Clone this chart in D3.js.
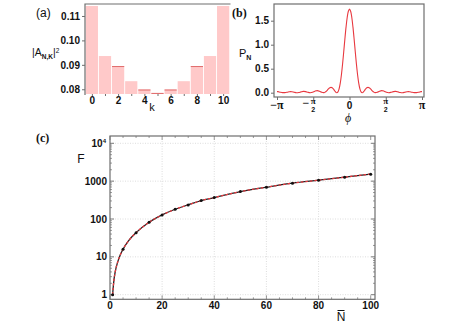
<!DOCTYPE html>
<html><head><meta charset="utf-8">
<script src="https://cdn.jsdelivr.net/npm/d3@7"></script>
<style>body{margin:0;background:#fff}svg{display:block}text{font-family:"Liberation Sans",Arial,sans-serif}</style>
</head><body>
<svg id="c" width="463" height="328"></svg>
<script>
// ---------- Data: panel (a) ----------
const kValues = [0,1,2,3,4,5,6,7,8,9,10];
const ampSq = [0.1141,0.0936,0.0895,0.0833,0.0799,0.0785,0.0799,0.0833,0.0895,0.0936,0.1141];
const aTicksX = [0,2,4,6,8,10];
const aTicksY = [0.08,0.09,0.10,0.11];
const aEdged = [2,4,5,6,8];
// ---------- Data: panel (b) ----------
const phiVals = [-3.1416,-3.1,-3.0,-2.9,-2.8,-2.7,-2.6,-2.5,-2.4,-2.3,-2.2,-2.1,-2.0,-1.9,-1.8,-1.7,-1.6,-1.5,-1.4,-1.3,-1.2,-1.1,-1.05,-1.0,-0.95,-0.9,-0.85,-0.8,-0.75,-0.7,-0.65,-0.6,-0.55,-0.5,-0.45,-0.4,-0.35,-0.3,-0.25,-0.2,-0.15,-0.1,-0.05,0,
  0.05,0.1,0.15,0.2,0.25,0.3,0.35,0.4,0.45,0.5,0.55,0.6,0.65,0.7,0.75,0.8,0.85,0.9,0.95,1.0,1.05,1.1,1.2,1.3,1.4,1.5,1.6,1.7,1.8,1.9,2.0,2.1,2.2,2.3,2.4,2.5,2.6,2.7,2.8,2.9,3.0,3.1,3.1416];
const pNVals = [0.022,0.022,0.011,0.002,0.002,0.010,0.021,0.021,0.010,0.000,0.004,0.017,0.027,0.023,0.008,0.000,0.010,0.032,0.044,0.032,0.008,0.002,0.013,0.033,0.059,0.085,0.105,0.111,0.102,0.078,0.045,0.014,0.000,0.018,0.082,0.200,0.375,0.598,0.854,1.119,1.365,1.566,1.697,1.742,
  1.697,1.566,1.365,1.119,0.854,0.598,0.375,0.200,0.082,0.018,0.000,0.014,0.045,0.078,0.102,0.111,0.105,0.085,0.059,0.033,0.013,0.002,0.008,0.032,0.044,0.032,0.010,0.000,0.008,0.023,0.027,0.017,0.004,0.000,0.010,0.021,0.021,0.010,0.002,0.002,0.011,0.022,0.022];
const bTicksY = [0.0,0.5,1.0,1.5];
const bTickLabelsY = ["0.0","0.5","1.0","1.5"];
// ---------- Data: panel (c) ----------
const nBarPts = [1,5,10,15,20,25,30,35,40,50,60,70,80,90,100];
const fPts = [1,15.9,43.6,82,128,181,236,307,368,531,693,885,1062,1276,1531];
const nBarCurve = [1,1.5,2,3,4,5,7,10,15,20,25,30,35,40,50,60,70,80,90,100];
const fCurve = [1,2.4,4,7.5,11.5,15.9,26,43.6,82,128,181,236,307,368,531,693,885,1062,1276,1531];
const cTicksX = [0,20,40,60,80,100];
const cTicksY = [1,10,100,1000,10000];

const svg = d3.select("#c");
const frameCol = "#6e6e6e";
const tickFont = "bold 10px 'Liberation Sans', Arial, sans-serif";

// ================= Panel (a) =================
{
  const L=85, R=229.5, T=4, B=94;
  const x = d3.scaleBand().domain(kValues).range([L+0.5,R]).paddingInner(0.07).paddingOuter(0.02);
  const y = d3.scaleLinear().domain([0.07806,0.1149]).range([B,T]);
  const g = svg.append("g");
  g.selectAll("rect.bar").data(kValues).join("rect")
    .attr("x",k=>x(k)).attr("width",x.bandwidth())
    .attr("y",(k,i)=>y(ampSq[i])).attr("height",(k,i)=>B-y(ampSq[i]))
    .attr("fill","#ffc9c9");
  g.selectAll("line.edge").data(aEdged).join("line")
    .attr("x1",k=>x(k)).attr("x2",k=>x(k)+x.bandwidth())
    .attr("y1",k=>y(ampSq[k])+0.5).attr("y2",k=>y(ampSq[k])+0.5)
    .attr("stroke","#e06a6a").attr("stroke-width",1);
  g.append("path").attr("d",`M${L},${B+1}V${T}H${R+1}`).attr("fill","none").attr("stroke",frameCol).attr("stroke-width",1.2);
  const ya = d3.axisLeft(y).tickValues(aTicksY).tickFormat(d3.format(".2f")).tickSize(3).tickPadding(2);
  const gy = g.append("g").attr("transform",`translate(${L},0)`).call(ya);
  gy.select(".domain").remove();
  gy.selectAll("line").attr("stroke",frameCol);
  gy.selectAll("text").style("font",tickFont).attr("fill","#111");
  const xa = d3.axisBottom(d3.scaleLinear().domain([0,10]).range([x(0)+x.bandwidth()/2, x(10)+x.bandwidth()/2]))
    .tickValues(kValues).tickFormat(d=>aTicksX.includes(d)?d:"").tickSize(2).tickPadding(1);
  const gx = g.append("g").attr("transform",`translate(0,${B})`).call(xa);
  gx.select(".domain").remove();
  gx.selectAll("line").attr("stroke",frameCol);
  gx.selectAll("text").style("font",tickFont).attr("fill","#111");
  const yl = g.append("text").attr("x",32).attr("y",56).style("font","10.5px 'Liberation Sans', Arial").attr("fill","#111");
  yl.append("tspan").text("|A");
  yl.append("tspan").attr("dy",2.5).style("font-size","6.5px").style("font-weight","bold").text("N,K");
  yl.append("tspan").attr("dy",-2.5).text("|");
  yl.append("tspan").attr("dy",-3).style("font-size","6.5px").text("2");
  g.append("text").attr("x",152).attr("y",111).attr("text-anchor","middle").style("font","11px 'Liberation Sans', Arial").attr("fill","#111").text("k");
  g.append("text").attr("x",36).attr("y",17).style("font","12px 'Liberation Sans', Arial").attr("fill","#111").text("(a)");
}

// ================= Panel (b) =================
{
  const L=274, R=424, T=4, B=97;
  const x = d3.scaleLinear().domain([-Math.PI,Math.PI]).range([277,422]);
  const y = d3.scaleLinear().domain([0,1.5]).range([92.7,20.7]);
  const g = svg.append("g");
  g.append("rect").attr("x",L).attr("y",T).attr("width",R-L).attr("height",B-T).attr("fill","none").attr("stroke",frameCol).attr("stroke-width",1.2);
  const line = d3.line().x((d,i)=>x(phiVals[i])).y(d=>y(d)).curve(d3.curveCatmullRom.alpha(0.5));
  g.append("path").attr("d",line(pNVals)).attr("fill","none").attr("stroke","#e8383f").attr("stroke-width",1.1);
  const ya = d3.axisLeft(y).tickValues(bTicksY).tickFormat((d,i)=>bTickLabelsY[i]).tickSize(3).tickPadding(2);
  const gy = g.append("g").attr("transform",`translate(${L},0)`).call(ya);
  gy.select(".domain").remove();
  gy.selectAll("line").attr("stroke",frameCol);
  gy.selectAll("text").style("font",tickFont).attr("fill","#111");
  const xt = [-Math.PI,-Math.PI/2,0,Math.PI/2,Math.PI];
  const xa = d3.axisBottom(x).tickValues(xt).tickFormat("").tickSize(3);
  const gx = g.append("g").attr("transform",`translate(0,${B})`).call(xa);
  gx.select(".domain").remove();
  gx.selectAll("line").attr("stroke",frameCol);
  const lf = "bold 12px 'Liberation Serif', 'Times New Roman', serif";
  g.append("text").attr("x",x(-Math.PI)).attr("y",109).attr("text-anchor","middle").style("font",lf).attr("fill","#111").text("−π");
  g.append("text").attr("x",x(Math.PI)).attr("y",109).attr("text-anchor","middle").style("font",lf).attr("fill","#111").text("π");
  g.append("text").attr("x",x(0)).attr("y",109).attr("text-anchor","middle").style("font",tickFont).attr("fill","#111").text("0");
  [-1,1].forEach(s=>{
    const cx = x(s*Math.PI/2);
    if(s<0) g.append("text").attr("x",cx-4).attr("y",107).attr("text-anchor","end").style("font",lf).attr("fill","#111").text("−");
    g.append("text").attr("x",cx).attr("y",104).attr("text-anchor","middle").style("font","bold 9px 'Liberation Serif', serif").attr("fill","#111").text("π");
    g.append("text").attr("x",cx).attr("y",112).attr("text-anchor","middle").style("font","bold 7px 'Liberation Sans', Arial").attr("fill","#111").text("2");
  });
  const pl = g.append("text").attr("x",239).attr("y",57).style("font","11px 'Liberation Sans', Arial").attr("fill","#111");
  pl.append("tspan").text("P");
  pl.append("tspan").attr("dy",2.5).style("font-size","7px").style("font-weight","bold").text("N");
  g.append("text").attr("x",348).attr("y",122).attr("text-anchor","middle").style("font","italic 12px 'Liberation Serif', serif").attr("fill","#111").text("ϕ");
  g.append("text").attr("x",232).attr("y",17).style("font","bold 12px 'Liberation Serif', 'Times New Roman', serif").attr("fill","#111").text("(b)");
}

// ================= Panel (c) =================
{
  const L=110, R=375, T=136, B=299.3;
  const x = d3.scaleLinear().domain([0,100]).range([110,370.7]);
  const y = d3.scaleLog().domain([1,10000]).range([294.7,143.3]);
  const g = svg.append("g");
  g.selectAll("line.gy").data(cTicksY).join("line").attr("x1",L).attr("x2",R).attr("y1",d=>y(d)).attr("y2",d=>y(d))
    .attr("stroke","#d4d4d4").attr("stroke-width",0.8).attr("stroke-dasharray","1,1.5");
  g.selectAll("line.gx").data([20,40,60,80]).join("line").attr("y1",T).attr("y2",B).attr("x1",d=>x(d)).attr("x2",d=>x(d))
    .attr("stroke","#d4d4d4").attr("stroke-width",0.8).attr("stroke-dasharray","1,1.5");
  const minorY = [];
  [1,10,100,1000,10000].forEach(dec=>{for(let m=2;m<=9;m++){const v=dec*m; if(y(v)>T) minorY.push(v);}});
  const tk = (x1,y1,x2,y2,w)=>g.append("line").attr("x1",x1).attr("y1",y1).attr("x2",x2).attr("y2",y2).attr("stroke",frameCol).attr("stroke-width",w||0.7);
  minorY.forEach(v=>{tk(L,y(v),L+2,y(v));tk(R,y(v),R-2,y(v));});
  cTicksY.forEach(v=>{tk(L,y(v),L+4,y(v),0.9);tk(R,y(v),R-4,y(v),0.9);});
  for(let v=0;v<=100;v+=5){const len=(v%20===0)?4:2; tk(x(v),B,x(v),B-len); tk(x(v),T,x(v),T+len);}
  g.append("rect").attr("x",L).attr("y",T).attr("width",R-L).attr("height",B-T).attr("fill","none").attr("stroke",frameCol).attr("stroke-width",1.2);
  const line = d3.line().x((d,i)=>x(nBarCurve[i])).y(d=>y(d)).curve(d3.curveMonotoneX);
  g.append("path").attr("d",line(fCurve)).attr("fill","none").attr("stroke","#222").attr("stroke-width",1.3);
  g.append("path").attr("d",line(fCurve)).attr("fill","none").attr("stroke","#e8383f").attr("stroke-width",1.3).attr("stroke-dasharray","2.5,2");
  g.selectAll("circle").data(fPts).join("circle").attr("cx",(d,i)=>x(nBarPts[i])).attr("cy",d=>y(d)).attr("r",1.5).attr("fill","#111");
  cTicksY.forEach(v=>{
    if(v===10000){
      const t=g.append("text").attr("x",L-4).attr("y",y(v)+3.5).attr("text-anchor","end").style("font",tickFont).attr("fill","#111");
      t.append("tspan").text("10");
      t.append("tspan").attr("dy",-4).style("font-size","6px").text("4");
    } else {
      g.append("text").attr("x",L-3).attr("y",y(v)+3.5).attr("text-anchor","end").style("font",tickFont).attr("fill","#111").text(d3.format("d")(v));
    }
  });
  cTicksX.forEach(v=>{
    g.append("text").attr("x",x(v)).attr("y",B+10).attr("text-anchor","middle").style("font",tickFont).attr("fill","#111").text(v);
  });
  g.append("text").attr("x",81).attr("y",163).attr("text-anchor","middle").style("font","12px 'Liberation Sans', Arial").attr("fill","#111").text("F");
  g.append("text").attr("x",341).attr("y",321).attr("text-anchor","middle").style("font","12px 'Liberation Sans', Arial").attr("fill","#111").text("N");
  g.append("line").attr("x1",337.5).attr("x2",344.5).attr("y1",310.5).attr("y2",310.5).attr("stroke","#111").attr("stroke-width",1);
  g.append("text").attr("x",36).attr("y",142).style("font","bold 12px 'Liberation Serif', 'Times New Roman', serif").attr("fill","#111").text("(c)");
}
</script>
</body></html>
